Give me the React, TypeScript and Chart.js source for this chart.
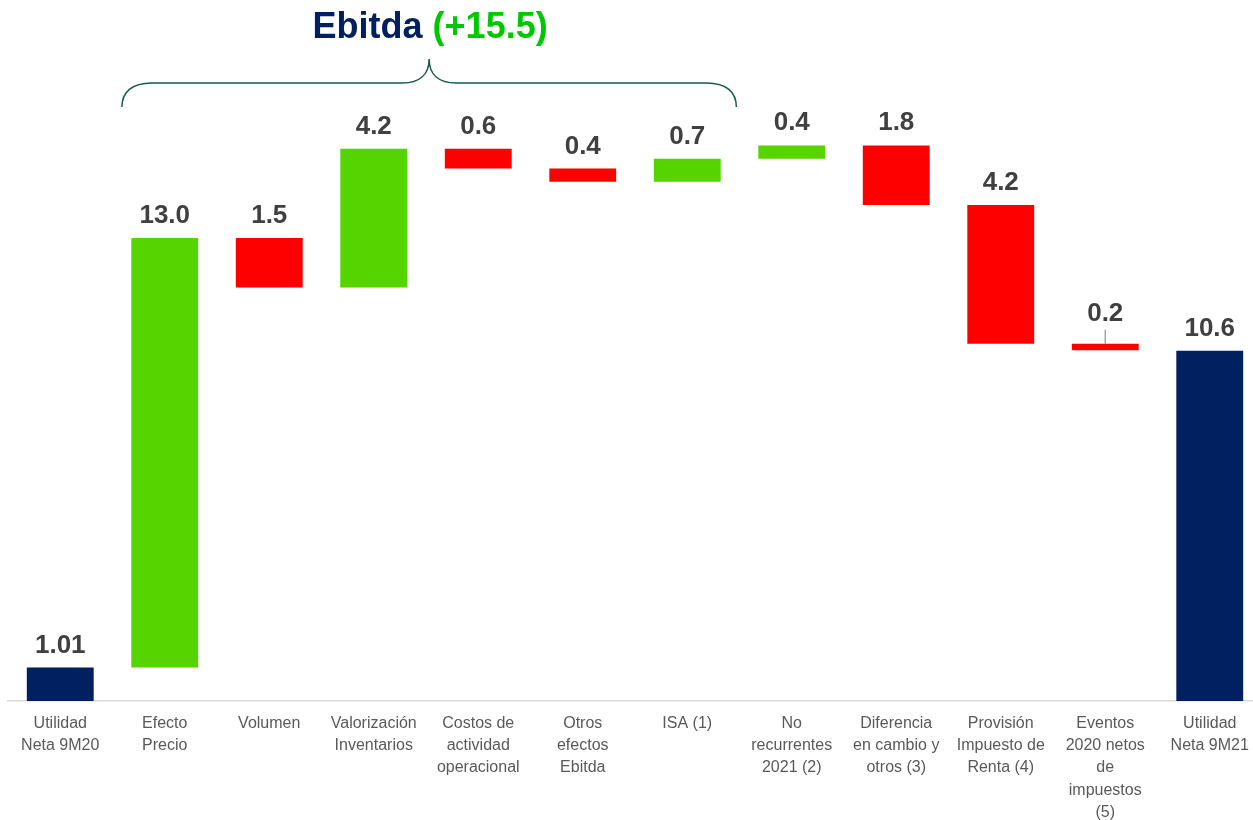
import React, { useEffect, useRef } from "react";
import { Chart, registerables } from "chart.js";

Chart.register(...registerables);

const CATEGORIES: string[][] = [
  ["Utilidad", "Neta 9M20"],
  ["Efecto", "Precio"],
  ["Volumen"],
  ["Valorización", "Inventarios"],
  ["Costos de", "actividad", "operacional"],
  ["Otros", "efectos", "Ebitda"],
  ["ISA (1)"],
  ["No", "recurrentes", "2021 (2)"],
  ["Diferencia", "en cambio y", "otros (3)"],
  ["Provisión", "Impuesto de", "Renta (4)"],
  ["Eventos", "2020 netos", "de", "impuestos", "(5)"],
  ["Utilidad", "Neta 9M21"],
];
const START_VALUE = 1.01;
const DELTAS = [13.0, -1.5, 4.2, -0.6, -0.4, 0.7, 0.4, -1.8, -4.2, -0.2];
const END_VALUE = 10.6;
const VALUE_LABELS = ["1.01", "13.0", "1.5", "4.2", "0.6", "0.4", "0.7", "0.4", "1.8", "4.2", "0.2", "10.6"];
const TITLE_MAIN = "Ebitda";
const TITLE_DELTA = "(+15.5)";
const EBITDA_FIRST = 1;
const EBITDA_LAST = 6;
const LEADER_INDEX = 10;

const NAVY = "#002060";
const GREEN = "#55D400";
const RED = "#FF0000";
const FONT = "'Liberation Sans', Arial, sans-serif";

export default function App() {
  const ref = useRef<HTMLCanvasElement | null>(null);

  useEffect(() => {
    if (!ref.current) return;
    const ranges: number[][] = [[0, START_VALUE]];
    const colors: string[] = [NAVY];
    let cum = START_VALUE;
    DELTAS.forEach((d) => {
      ranges.push([cum, cum + d]);
      colors.push(d >= 0 ? GREEN : RED);
      cum += d;
    });
    ranges.push([0, END_VALUE]);
    colors.push(NAVY);

    const labelPlugin = {
      id: "labels",
      afterDatasetsDraw(chart: any) {
        const ctx = chart.ctx;
        const meta = chart.getDatasetMeta(0);
        ctx.save();
        ctx.font = `bold 26px ${FONT}`;
        ctx.fillStyle = "#404040";
        ctx.textAlign = "center";
        ctx.textBaseline = "alphabetic";
        meta.data.forEach((el: any, i: number) => {
          const top = Math.min(el.y, el.base);
          let y = top - 15;
          if (i === LEADER_INDEX) {
            ctx.strokeStyle = "#A6A6A6";
            ctx.lineWidth = 1.5;
            ctx.beginPath();
            ctx.moveTo(el.x, top);
            ctx.lineTo(el.x, top - 14);
            ctx.stroke();
            y = top - 23;
          }
          ctx.fillText(VALUE_LABELS[i], el.x, y);
        });
        ctx.restore();
      },
      afterDraw(chart: any) {
        const ctx = chart.ctx;
        const xs = chart.scales.x;
        const step = xs.getPixelForValue(1) - xs.getPixelForValue(0);
        const left = xs.getPixelForValue(EBITDA_FIRST) - step * 0.41;
        const right = xs.getPixelForValue(EBITDA_LAST) + step * 0.47;
        const mid = (left + right) / 2;
        const yEnd = 107;
        const yH = 83;
        const yTip = 59;
        ctx.save();
        ctx.strokeStyle = "#17594A";
        ctx.lineWidth = 1.5;
        ctx.beginPath();
        ctx.moveTo(left, yEnd);
        ctx.bezierCurveTo(left, 92, left + 10, yH, left + 30, yH);
        ctx.lineTo(mid - 27, yH);
        ctx.bezierCurveTo(mid - 10, yH, mid, 75, mid, yTip);
        ctx.bezierCurveTo(mid, 75, mid + 10, yH, mid + 27, yH);
        ctx.lineTo(right - 30, yH);
        ctx.bezierCurveTo(right - 10, yH, right, 92, right, yEnd);
        ctx.stroke();

        ctx.font = `bold 36px ${FONT}`;
        ctx.textBaseline = "alphabetic";
        ctx.textAlign = "left";
        const w1 = ctx.measureText(TITLE_MAIN + " ").width;
        const w2 = ctx.measureText(TITLE_DELTA).width;
        const x0 = mid - (w1 + w2) / 2 + 1;
        ctx.fillStyle = NAVY;
        ctx.fillText(TITLE_MAIN + " ", x0, 38);
        ctx.fillStyle = "#00C800";
        ctx.fillText(TITLE_DELTA, x0 + w1, 38);
        ctx.restore();
      },
    };

    const chart = new Chart(ref.current, {
      type: "bar",
      data: {
        labels: CATEGORIES,
        datasets: [
          {
            data: ranges as any,
            backgroundColor: colors,
            borderWidth: 0,
            barPercentage: 0.64,
            categoryPercentage: 1,
          },
        ],
      },
      options: {
        responsive: false,
        animation: false,
        layout: { padding: { top: 40, left: 8, right: 0, bottom: -15 } },
        plugins: {
          legend: { display: false },
          tooltip: { enabled: false },
          title: { display: false },
        },
        scales: {
          x: {
            grid: { display: false, drawTicks: false },
            border: { display: true, color: "#D9D9D9", width: 1.5 },
            ticks: {
              color: "#595959",
              font: { family: FONT, size: 16, lineHeight: 1.4 },
              padding: 11,
              autoSkip: false,
              maxRotation: 0,
              minRotation: 0,
            },
          },
          y: {
            display: false,
            min: 0,
            max: 20,
          },
        },
      },
      plugins: [labelPlugin],
    });
    return () => chart.destroy();
  }, []);

  return (
    <div
      style={{
        position: "absolute",
        left: 0,
        top: 0,
        width: 1253,
        height: 820,
        overflow: "hidden",
        background: "#fff",
      }}
    >
      <canvas ref={ref} width={1262} height={820} style={{ width: 1262, height: 820, display: "block" }} />
    </div>
  );
}
